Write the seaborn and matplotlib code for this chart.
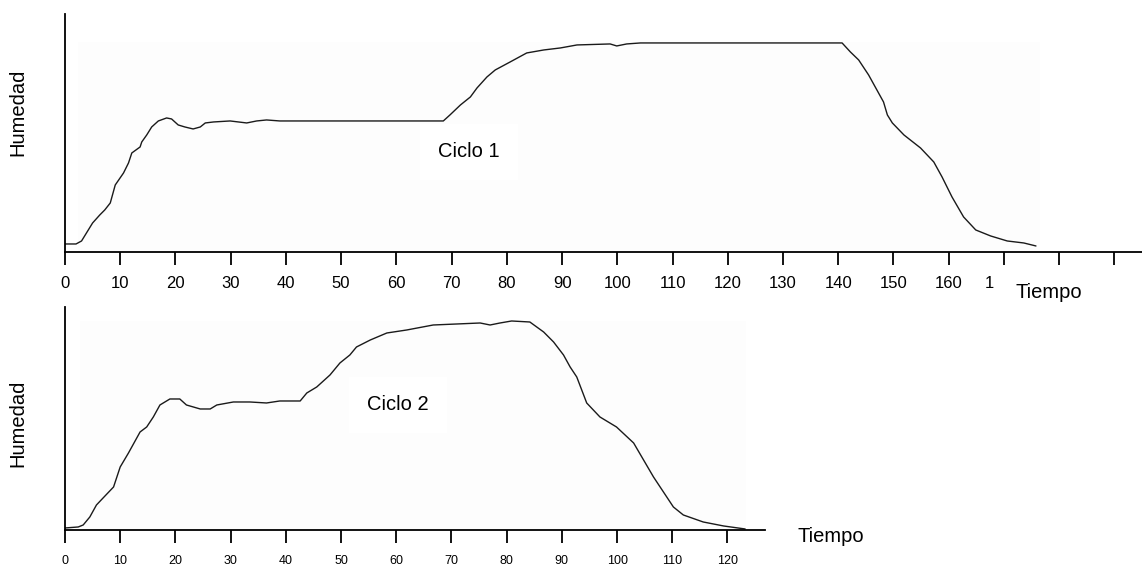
import numpy as np
import seaborn as sns
import matplotlib.pyplot as plt
from matplotlib.patches import Rectangle
from matplotlib.transforms import ScaledTranslation

sns.set_style("white")
plt.rcParams['font.family'] = ['Liberation Sans', 'DejaVu Sans']
plt.rcParams['text.color'] = 'black'
plt.rcParams['xtick.color'] = 'black'

# Ciclo 1
t1 = [0, 2, 3, 4, 5, 6.3, 7.2, 8.2, 9.1, 10.6, 11.5, 12.1, 13.6, 13.9, 14.8,
      15.7, 16.9, 18.4, 19.3, 19.9, 20.5, 21.7, 23.2, 24.5, 25.4, 26.9, 29.9,
      32.9, 34.7, 36.5, 38.9, 68.5, 69.7, 71.6, 73.4, 74.6, 76.4, 77.9, 80.6,
      83.6, 86.7, 89.7, 92.7, 98.7, 99.9, 101.7, 104.2, 140.7, 142.2, 143.7,
      145.5, 147.0, 148.2, 148.9, 149.8, 151.9, 154.9, 157.3, 158.8, 160.6,
      162.7, 164.9, 167.6, 170.6, 173.6, 175.8]
h1 = [8, 8, 11, 20, 29, 37, 42, 49, 67, 79, 89, 99, 105, 110, 117,
      125, 131, 134, 133, 130, 127, 125, 123, 125, 129, 130, 131,
      129, 131, 132, 131, 131, 137, 147, 155, 164, 175, 182, 190,
      199, 202, 204, 207, 208, 206, 208, 209, 209, 200, 192,
      177, 162, 150, 137, 129, 117, 104, 90, 75, 55,
      35, 22, 16, 11, 9, 6]

# Ciclo 2
t2 = [0, 2.4, 3.3, 4.5, 5.7, 6.9, 8.8, 10.0, 11.5, 13.6, 14.8, 16.0, 17.2,
      19.0, 20.8, 22.0, 24.5, 26.3, 27.5, 30.5, 33.5, 36.5, 38.9, 42.6, 43.8,
      45.6, 48.0, 49.8, 51.6, 52.8, 55.3, 58.3, 61.9, 66.7, 75.2, 77.0, 78.8,
      80.9, 84.2, 86.7, 88.5, 90.3, 91.5, 92.7, 93.6, 94.5, 96.9, 99.9, 103.0,
      104.8, 106.6, 108.4, 110.2, 112.0, 115.6, 119.3, 123.2]
h2 = [2, 3, 5, 13, 25, 32, 43, 63, 77, 98, 103, 113, 125,
      131, 131, 125, 121, 121, 125, 128, 128, 127, 129, 129, 137,
      143, 155, 167, 175, 183, 190, 197, 200, 205, 207, 205, 207,
      209, 208, 198, 188, 175, 163, 153, 140, 127, 113, 103, 87,
      70, 53, 38, 23, 15, 8, 4, 1]

ticks1 = list(range(0, 200, 10))
labels1 = [str(v) for v in range(0, 170, 10)] + ["1", "", ""]
ticks2 = list(range(0, 130, 10))
labels2 = [str(v) for v in ticks2]

fig = plt.figure(figsize=(11.42, 5.67), dpi=100)
ax1 = fig.add_axes([0.0569, 0.5556, 0.9431, 0.4198])
ax2 = fig.add_axes([0.0569, 0.0653, 0.613, 0.3938])


def style(ax, xmax, ymax, ticks, labels, fs, pad):
    ax.set_xlim(0, xmax)
    ax.set_ylim(0, ymax)
    for s in ["top", "right"]:
        ax.spines[s].set_visible(False)
    for s in ["left", "bottom"]:
        ax.spines[s].set_color("black")
        ax.spines[s].set_linewidth(1.3)
    ax.set_yticks([])
    ax.set_xticks(ticks)
    ax.set_xticklabels(labels, fontsize=fs)
    ax.tick_params(axis="x", direction="out", length=9.4, width=1.3,
                   color="black", labelcolor="black", pad=pad, bottom=True)
    ax.set_xlabel("")
    ax.set_ylabel("")
    ax.set_facecolor("white")


# faint background panels
ax1.add_patch(Rectangle((2.4, 0), 174.2, 210, color="#fdfdfd", zorder=0, lw=0))
ax2.add_patch(Rectangle((2.7, 0), 120.7, 209, color="#fdfdfd", zorder=0, lw=0))

sns.lineplot(x=t1, y=h1, ax=ax1, color="#1a1a1a", linewidth=1.0,
             sort=False, estimator=None)
sns.lineplot(x=t2, y=h2, ax=ax2, color="#1a1a1a", linewidth=1.0,
             sort=False, estimator=None)

style(ax1, 195, 238, ticks1, labels1, 12, 8)
style(ax2, 126.8, 223.3, ticks2, labels2, 9, 8.5)

# the truncated "1" label sits left of its tick
lab = ax1.get_xticklabels()[17]
lab.set_transform(lab.get_transform() + ScaledTranslation(-0.15, 0, fig.dpi_scale_trans))

ax1.text(73.2, 100, "Ciclo 1", fontsize=14.5, ha="center", va="center",
         bbox=dict(boxstyle="square,pad=0.9", fc="white", ec="none"))
ax2.text(60.3, 125, "Ciclo 2", fontsize=14.5, ha="center", va="center",
         bbox=dict(boxstyle="square,pad=0.9", fc="white", ec="none"))

fig.text(18 / 1142, 1 - 112 / 567, "Humedad", rotation=90, fontsize=14.5,
         ha="center", va="center")
fig.text(18 / 1142, 1 - 423 / 567, "Humedad", rotation=90, fontsize=14.5,
         ha="center", va="center")
fig.text(1015 / 1142, 1 - 293 / 567, "Tiempo", fontsize=14.5,
         ha="left", va="center")
fig.text(798 / 1142, 1 - 537 / 567, "Tiempo", fontsize=14.5,
         ha="left", va="center")

plt.savefig("out.png", dpi=100)
